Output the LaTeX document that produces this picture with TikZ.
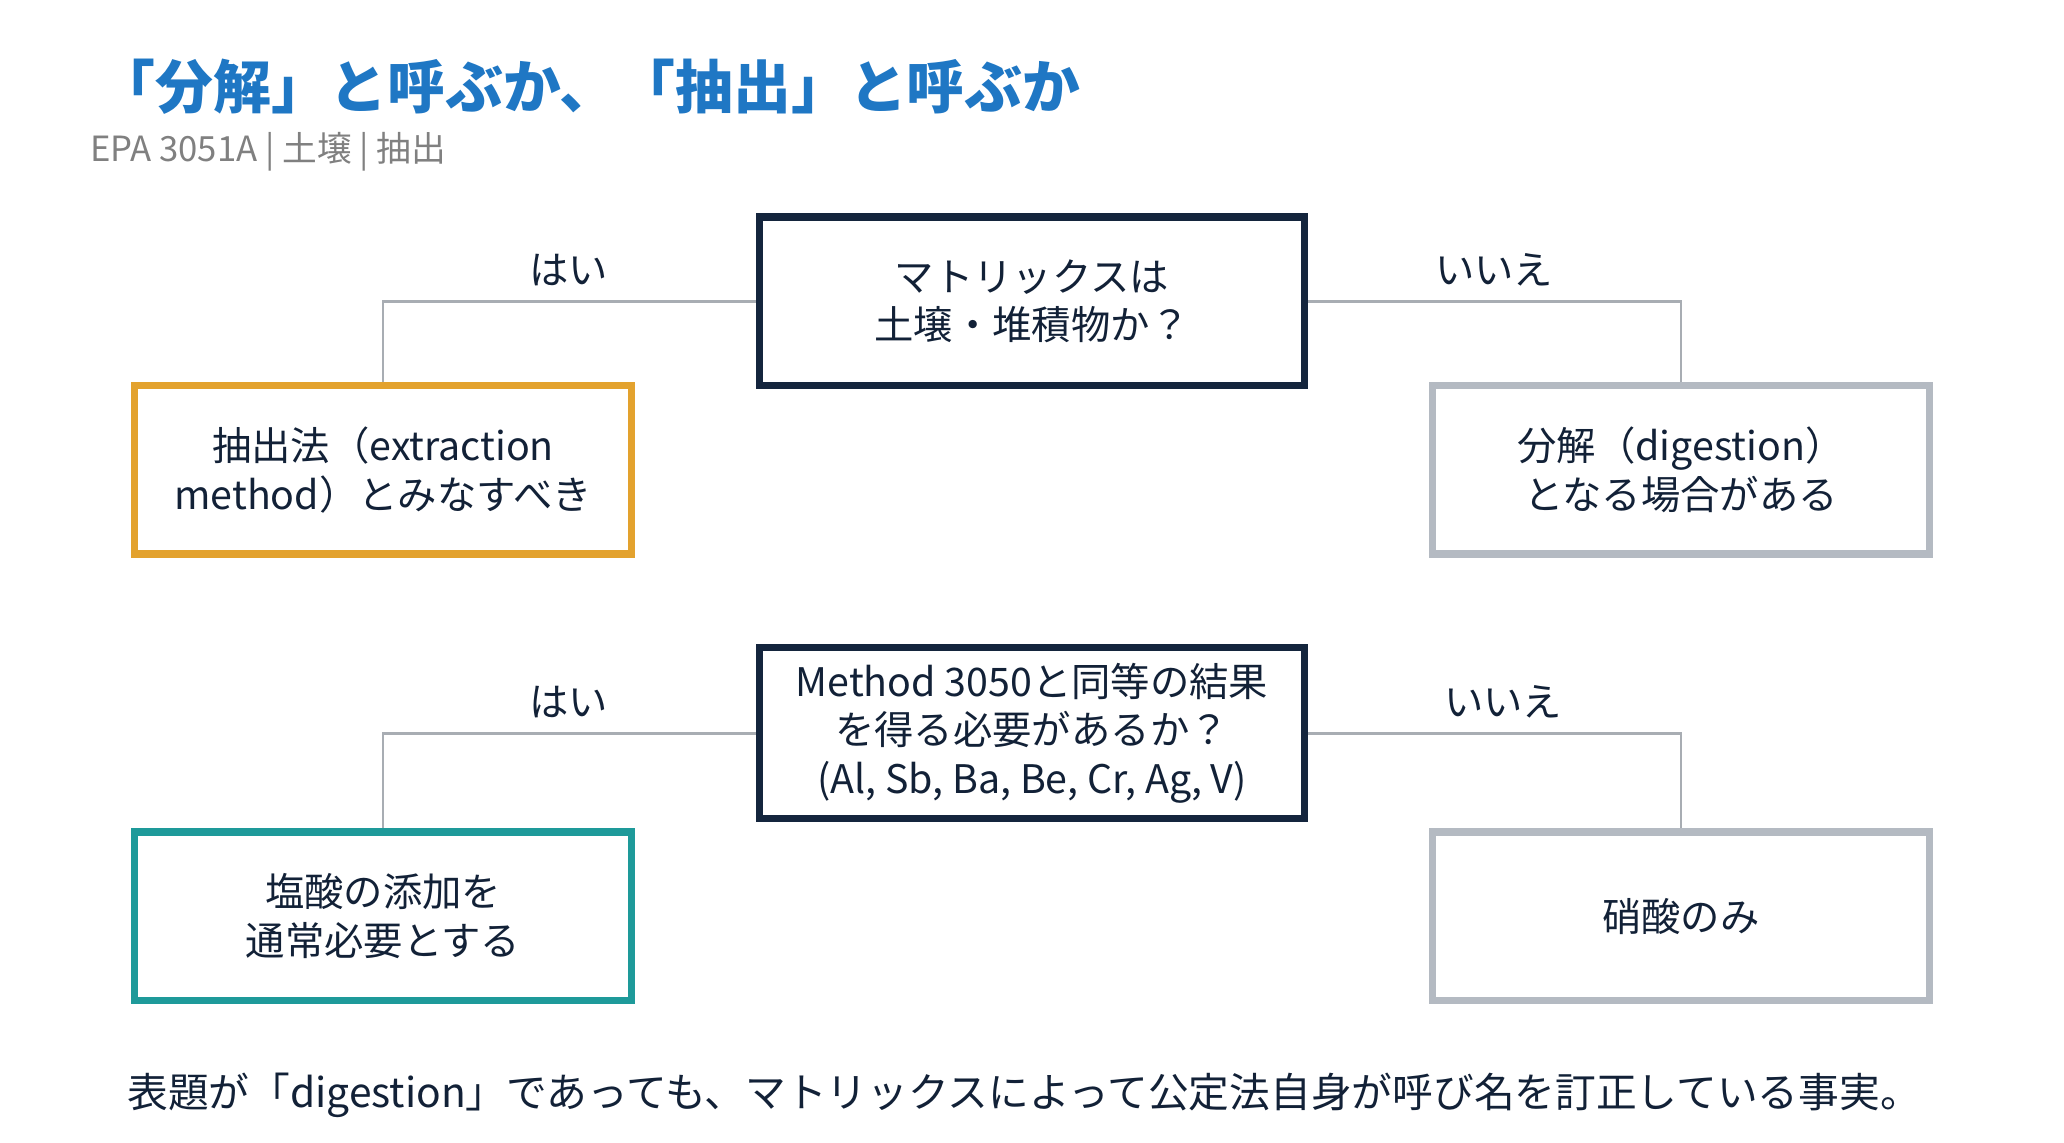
\documentclass[tikz,border=0pt]{standalone}
\usepackage{fontspec}
\setmainfont{Noto Sans CJK JP}
\usetikzlibrary{positioning}
\definecolor{navy}{HTML}{14253D}
\definecolor{titleblue}{HTML}{1F77C4}
\definecolor{amber}{HTML}{E3A22E}
\definecolor{teal2}{HTML}{1E9A9A}
\definecolor{greybox}{HTML}{B4BAC2}
\definecolor{linegrey}{HTML}{A8ADB3}
\begin{document}
\begin{tikzpicture}[
    x=0.01cm, y=-0.01cm,
    question/.style={rectangle, draw=navy, line width=1.6pt, minimum width=4.14cm, minimum height=1.28cm, align=center, font=\fontsize{8.5pt}{10.5pt}\selectfont, text=navy!90!black},
    answer/.style={rectangle, line width=1.6pt, minimum width=3.77cm, minimum height=1.28cm, align=center, font=\fontsize{8.5pt}{10.5pt}\selectfont, text=navy!90!black},
    branch/.style={draw=linegrey, line width=0.6pt},
    tag/.style={font=\fontsize{8.5pt}{10pt}\selectfont, text=navy!90!black}
]
\useasboundingbox (0,0) rectangle (1568,868);

% Header
\node[anchor=west, font=\fontsize{12.5pt}{14pt}\selectfont\bfseries, text=titleblue] (title) at (62,66) {「分解」と呼ぶか、「抽出」と呼ぶか};
\node[anchor=west, font=\fontsize{7.5pt}{9pt}\selectfont, text=gray] (sub) at (56,115) {EPA 3051A | 土壌 | 抽出};

% First question
\node[question] (q1) at (784,229) {マトリックスは\\土壌・堆積物か？};
\node[answer, draw=amber] (a1) at (291,357) {抽出法（extraction\\method）とみなすべき};
\node[answer, draw=greybox] (b1) at (1277,357) {分解（digestion）\\となる場合がある};
\draw[branch] (q1.west) -| (a1.north);
\draw[branch] (q1.east) -| (b1.north);
\node[tag] (y1) at (432,205) {はい};
\node[tag] (n1) at (1135,205) {いいえ};

% Second question
\node[question] (q2) at (784,557) {Method 3050と同等の結果\\を得る必要があるか？\\(Al, Sb, Ba, Be, Cr, Ag, V)};
\node[answer, draw=teal2] (a2) at (291,696) {塩酸の添加を\\通常必要とする};
\node[answer, draw=greybox] (b2) at (1277,696) {硝酸のみ};
\draw[branch] (q2.west) -| (a2.north);
\draw[branch] (q2.east) -| (b2.north);
\node[tag] (y2) at (432,533) {はい};
\node[tag] (n2) at (1142,533) {いいえ};

% Footer
\node[font=\fontsize{8.8pt}{10pt}\selectfont, text=navy!90!black] (foot) at (778,832) {表題が「digestion」であっても、マトリックスによって公定法自身が呼び名を訂正している事実。};
\end{tikzpicture}
\end{document}
